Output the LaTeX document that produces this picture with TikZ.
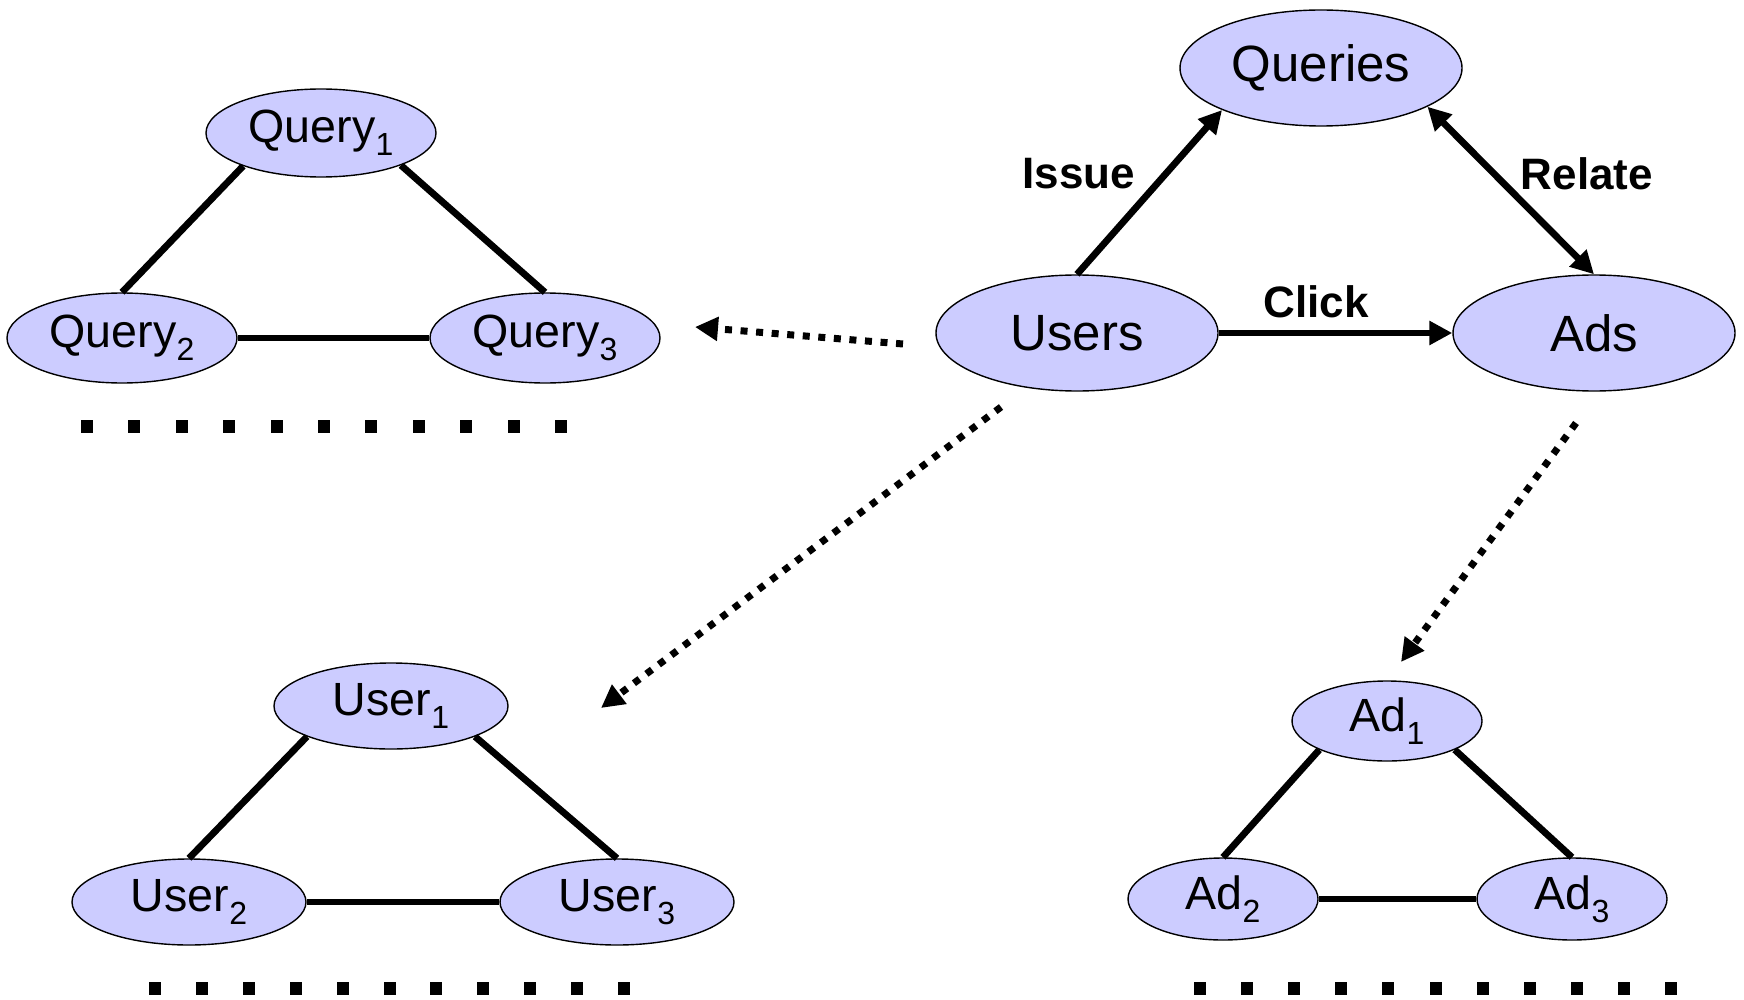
\documentclass[tikz,border=0pt]{standalone}
\usepackage{fontspec}
\setmainfont{Liberation Sans}
\usetikzlibrary{shapes.geometric,arrows.meta}
\definecolor{lav}{HTML}{CCCCFF}
% lowered index after a node label
\newcommand\ix[1]{\raisebox{-6.5pt}{\fontsize{16}{16}\selectfont #1}}
\begin{document}
\begin{tikzpicture}[x=0.5pt,y=-0.5pt,
  ent/.style={ellipse, draw=black, line width=0.7pt, fill=lav, inner sep=0pt,
    font=\fontsize{25.5}{30}\selectfont, minimum width=141pt, minimum height=58pt},
  item/.style={ellipse, draw=black, line width=0.7pt, fill=lav, inner sep=0pt,
    font=\fontsize{23.3}{26}\selectfont},
  qitem/.style={item, minimum width=115pt, minimum height=44pt},
  uitem/.style={item, minimum width=117pt, minimum height=43pt},
  aitem/.style={item, minimum width=95pt, minimum height=41pt},
  link/.style={line width=3.4pt},
  tip/.style={-{Triangle[length=11.5pt,width=11.5pt]}},
  arr/.style={line width=3.4pt, tip},
  darr/.style={line width=3.5pt, dash pattern=on 3.5pt off 4.3pt, tip},
  lbl/.style={font=\bfseries\fontsize{22}{26}\selectfont}
]
\useasboundingbox (0,0) rectangle (1744,1000);

% main entity graph
\node[ent] (queries) at (1321,68) {Queries};
\node[ent] (users) at (1077,333) {Users};
\node[ent] (ads) at (1594,333) {Ads};

\draw[arr] (users.north) -- (queries.-157);
\draw[line width=3.4pt, {Triangle[length=11.5pt,width=11.5pt]}-{Triangle[length=11.5pt,width=11.5pt]}]
  (queries.-20) -- (ads.north);
\draw[arr] (users.east) -- (ads.west);

\node[lbl] (issue) at (1079,174) {Issue};
\node[lbl] (relate) at (1587,174) {Relate};
\node[lbl] (click) at (1316,302) {Click};

% query graph
\node[qitem] (q1) at (321,133) {Query\ix{1}};
\node[qitem, minimum height=45pt] (q2) at (122,338) {Query\ix{2}};
\node[qitem, minimum height=45pt] (q3) at (545,338) {Query\ix{3}};
\draw[link] (q1.-157) -- (q2.north);
\draw[link] (q1.-22) -- (q3.north);
\draw[link] (q2.east) -- (q3.west);
\foreach \i in {0,...,10} \fill ({87+47.4*\i-6},420) rectangle ++(12,13);

% user graph
\node[uitem] (u1) at (391,706) {User\ix{1}};
\node[uitem] (u2) at (189,902) {User\ix{2}};
\node[uitem] (u3) at (617,902) {User\ix{3}};
\draw[link] (u1.-160) -- (u2.north);
\draw[link] (u1.-20) -- (u3.north);
\draw[link] (u2.east) -- (u3.west);
\foreach \i in {0,...,10} \fill ({155+46.9*\i-6},982) rectangle ++(12,13);

% ad graph
\node[aitem, minimum height=40pt] (a1) at (1387,721) {Ad\ix{1}};
\node[aitem] (a2) at (1223,899) {Ad\ix{2}};
\node[aitem] (a3) at (1572,899) {Ad\ix{3}};
\draw[link] (a1.-157) -- (a2.north);
\draw[link] (a1.-23) -- (a3.north);
\draw[link] (a2.east) -- (a3.west);
\foreach \i in {0,...,10} \fill ({1200+47.1*\i-6},982) rectangle ++(12,13);

% expansion arrows
\coordinate (qsrc) at (903,344);
\coordinate (qdst) at (695,327);
\coordinate (usrc) at (1001,407);
\coordinate (udst) at (601,708);
\coordinate (asrc) at (1576,423);
\coordinate (adst) at (1401,662);
\draw[darr] (qsrc) -- (qdst);
\draw[darr] (usrc) -- (udst);
\draw[darr] (asrc) -- (adst);
\end{tikzpicture}
\end{document}
